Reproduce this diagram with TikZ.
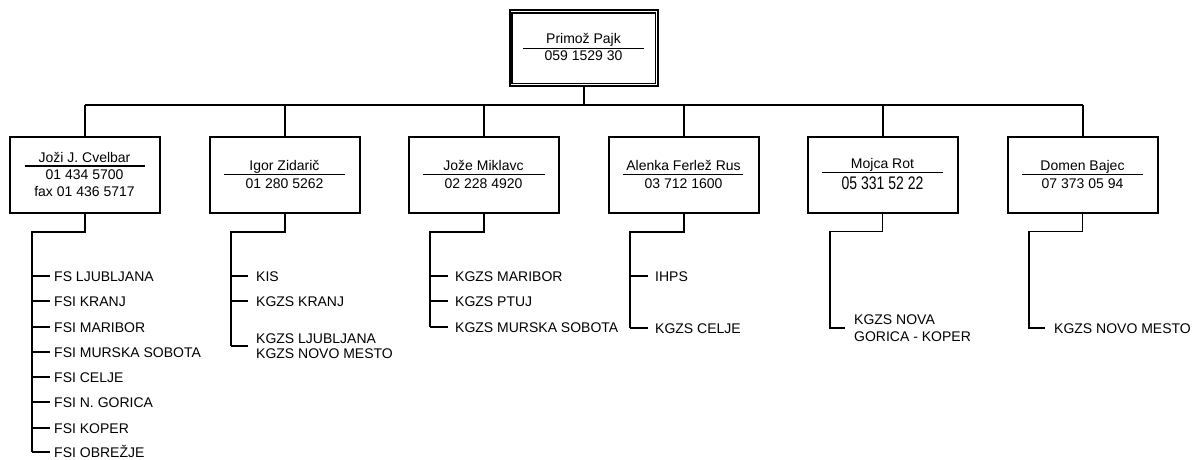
\documentclass[tikz,border=0pt]{standalone}
\usepackage{fontspec}
\setmainfont{Liberation Sans}
\usepackage{graphicx}
\begin{document}
\begin{tikzpicture}[x=1pt,y=-1pt,
  box/.style={draw,line width=2pt,minimum width=150pt,minimum height=76pt,inner sep=0pt},
  txt/.style={font=\fontsize{14}{15}\selectfont,inner sep=0pt,anchor=base},
  item/.style={font=\fontsize{14}{15}\selectfont,anchor=west,inner ysep=0pt,text height=10pt,text depth=0pt},
  mitem/.style={font=\fontsize{14}{#1}\selectfont,anchor=west,inner ysep=0pt,align=left},
  main/.style={line width=2pt},
  tick/.style={line width=1.3pt},
  thinb/.style={line width=1.4pt},
  sep/.style={line width=1.5pt}]
\useasboundingbox (0,0) rectangle (1195,460);

% top box
\node[box,minimum width=148.5pt,minimum height=75.5pt] (top) at (583.75,48.25) {};
\draw[line width=1.3pt] ([shift={(3.5,3.5)}]top.north west) rectangle ([shift={(-3.5,-3.5)}]top.south east);
\node[txt] (topn) at (583.5,44) {Primož Pajk};
\draw[sep] (523,48.3) -- (644,48.3);
\node[txt] (topp) at (583.5,61) {059 1529 30};

% child boxes
\node[box] (b1) at (85,175) {};
\node[box] (b2) at (284.5,175) {};
\node[box] (b3) at (483.5,175) {};
\node[box] (b4) at (683.5,175) {};
\node[box] (b5) at (882.5,175) {};
\node[box] (b6) at (1082.5,175) {};

% bus
\coordinate (bus) at (583.75,105);
\draw[main] (top.south) -- (bus);
\draw[main] (b1.north |- bus) -- (b6.north |- bus);
\foreach \i in {1,...,6} \draw[main] (b\i.north |- bus) -- (b\i.north);

% box texts
\node[txt] (n1) at (84.5,162) {Joži J. Cvelbar};
\draw[sep] (24.5,166) -- (145,166);
\node[txt] (p1) at (84.5,179) {01 434 5700};
\node[txt] (f1) at (84.5,196) {fax 01 436 5717};

\node[txt] (n2) at (284.5,170) {Igor Zidarič};
\draw[sep] (224,174.3) -- (345,174.3);
\node[txt] (p2) at (284.5,188) {01 280 5262};

\node[txt] (n3) at (483.5,170) {Jože Miklavc};
\draw[sep] (423,174.3) -- (545,174.3);
\node[txt] (p3) at (483.5,188) {02 228 4920};

\node[txt] (n4) at (683.5,170) {Alenka Ferlež Rus};
\draw[sep] (623,174.3) -- (743,174.3);
\node[txt] (p4) at (683.5,188) {03 712 1600};

\node[txt] (n5) at (882.5,168) {Mojca Rot};
\draw[sep] (822,172.7) -- (943,172.7);
\node[txt] (p5) at (882.5,189) {\scalebox{1}[1.3]{05 331 52 22}};

\node[txt] (n6) at (1082.5,170) {Domen Bajec};
\draw[sep] (1022,174.3) -- (1143,174.3);
\node[txt] (p6) at (1082.5,188) {07 373 05 94};

% list 1
\coordinate (k1) at (32,231.5);
\node[item,inner xsep=4pt] (i11) at (50,276) {FS LJUBLJANA};
\node[item,inner xsep=4pt] (i12) at (50,301) {FSI KRANJ};
\node[item,inner xsep=4pt] (i13) at (50,327) {FSI MARIBOR};
\node[item,inner xsep=4pt] (i14) at (50,352) {FSI MURSKA SOBOTA};
\node[item,inner xsep=4pt] (i15) at (50,377) {FSI CELJE};
\node[item,inner xsep=4pt] (i16) at (50,402) {FSI N. GORICA};
\node[item,inner xsep=4pt] (i17) at (50,428) {FSI KOPER};
\node[item,inner xsep=4pt] (i18) at (50,452) {FSI OBREŽJE};
\draw[main] (b1.south) |- (k1) -- (k1 |- i18.west);
\foreach \j in {1,...,8} \draw[tick] (k1 |- i1\j.west) -- (i1\j.west);

% list 2
\coordinate (k2) at (231,231.5);
\node[item,inner xsep=8pt] (i21) at (248,276) {KIS};
\node[item,inner xsep=8pt] (i22) at (248,301) {KGZS KRANJ};
\node[mitem=15,inner xsep=8pt] (i23) at (248,346) {KGZS LJUBLJANA\\KGZS NOVO MESTO};
\draw[main] (b2.south) |- (k2) -- (k2 |- i23.west);
\foreach \j in {1,2,3} \draw[tick] (k2 |- i2\j.west) -- (i2\j.west);

% list 3
\coordinate (k3) at (430,231.5);
\node[item,inner xsep=7pt] (i31) at (448,276) {KGZS MARIBOR};
\node[item,inner xsep=7pt] (i32) at (448,301) {KGZS PTUJ};
\node[item,inner xsep=7pt] (i33) at (448,327) {KGZS MURSKA SOBOTA};
\draw[main] (b3.south) |- (k3) -- (k3 |- i33.west);
\foreach \j in {1,2,3} \draw[tick] (k3 |- i3\j.west) -- (i3\j.west);

% list 4
\coordinate (k4) at (630,231.5);
\node[item,inner xsep=7pt] (i41) at (648,276) {IHPS};
\node[item,inner xsep=7pt] (i42) at (648,328) {KGZS CELJE};
\draw[main] (b4.south) |- (k4) -- (k4 |- i42.west);
\foreach \j in {1,2} \draw[tick] (k4 |- i4\j.west) -- (i4\j.west);

% list 5
\coordinate (k5) at (830,231.5);
\node[mitem=17,inner xsep=9pt] (i51) at (845,328) {KGZS NOVA\\GORICA - KOPER};
\draw[thinb] (b5.south) |- (k5) |- (i51.west);

% list 6
\coordinate (k6) at (1029,231.5);
\node[item,inner xsep=9pt] (i61) at (1045,328) {KGZS NOVO MESTO};
\draw[thinb] (b6.south) |- (k6) |- (i61.west);
\end{tikzpicture}
\end{document}
